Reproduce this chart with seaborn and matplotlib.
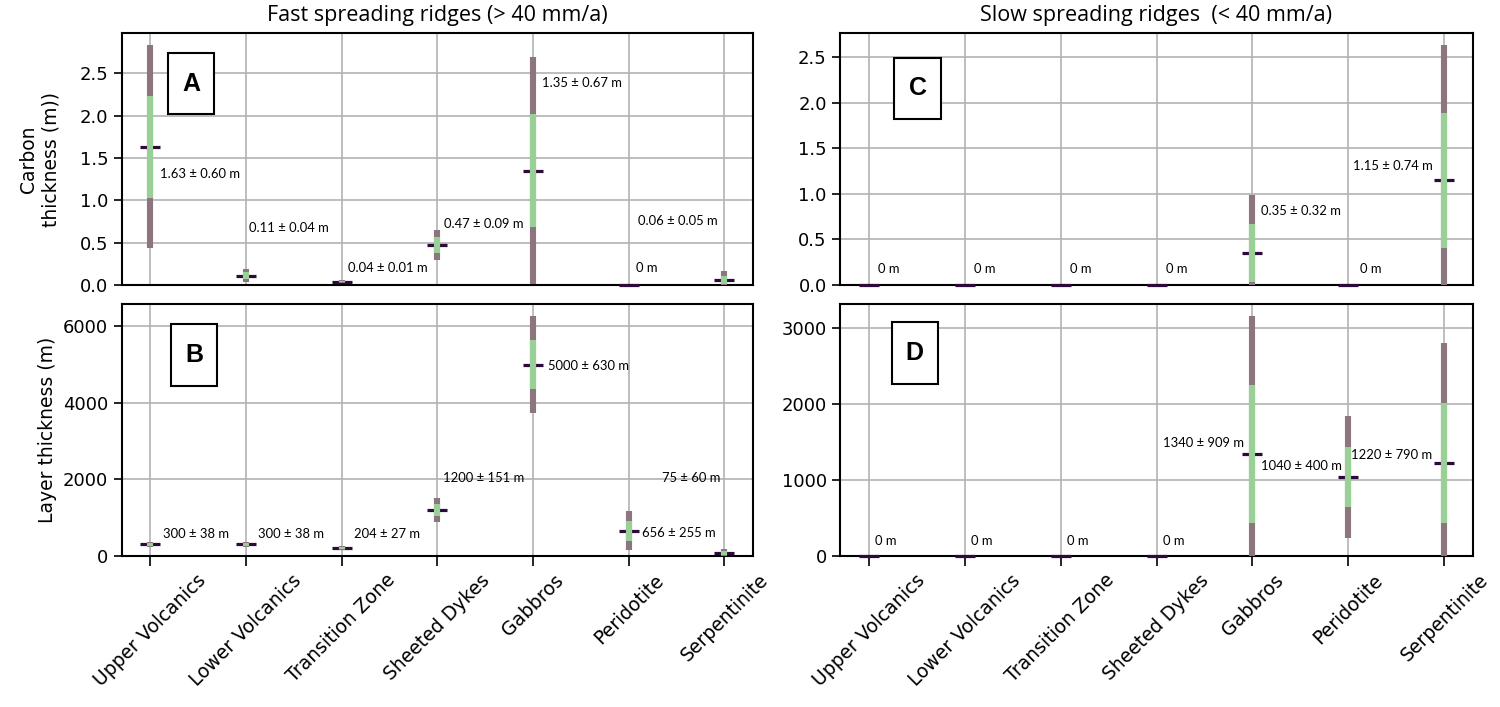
import numpy as np
import matplotlib
matplotlib.use("Agg")
import matplotlib.pyplot as plt
from matplotlib.patches import Rectangle
import seaborn as sns

# layer names along the x axis
categories = ["Upper Volcanics", "Lower Volcanics", "Transition Zone", "Sheeted Dykes",
              "Gabbros", "Peridotite", "Serpentinite"]

# fast spreading ridges: carbon thickness (m), mean and std
fast_carbon_mean = [1.63, 0.11, 0.04, 0.47, 1.35, 0.0, 0.06]
fast_carbon_sd = [0.60, 0.04, 0.01, 0.09, 0.67, 0.0, 0.05]
# fast spreading ridges: layer thickness (m)
fast_layer_mean = [300, 300, 204, 1200, 5000, 656, 75]
fast_layer_sd = [38, 38, 27, 151, 630, 255, 60]

# slow spreading ridges
slow_carbon_mean = [0.0, 0.0, 0.0, 0.0, 0.35, 0.0, 1.15]
slow_carbon_sd = [0.0, 0.0, 0.0, 0.0, 0.32, 0.0, 0.74]
slow_layer_mean = [0, 0, 0, 0, 1340, 1040, 1220]
slow_layer_sd = [0, 0, 0, 0, 909, 400, 790]

# where the value labels sit (x in category units, y in data units)
label_pos_a = [(0.10, 1.31), (1.03, 0.675), (2.07, 0.20), (3.07, 0.72),
               (4.09, 2.38), (5.08, 0.20), (5.10, 0.75)]
label_pos_b = [(0.13, 569), (1.13, 569), (2.13, 569), (3.06, 2035),
               (4.16, 4952), (5.14, 611), (5.35, 2035)]
label_pos_c = [(0.10, 0.18), (1.10, 0.18), (2.10, 0.18), (3.10, 0.18),
               (4.09, 0.81), (5.12, 0.18), (5.05, 1.31)]
label_pos_d = [(0.07, 191), (1.07, 191), (2.07, 191), (3.07, 191),
               (3.07, 1493), (4.09, 1187), (5.03, 1324)]

OUTER = "#8c757f"
INNER = "#98d095"
MEAN = "#2c0b3a"

sns.set_theme(style="ticks")
plt.rcParams["font.family"] = ["DejaVu Sans"]
for key in ("text.color", "axes.labelcolor", "xtick.color", "ytick.color"):
    plt.rcParams[key] = "black"


def draw_panel(ax, means, sds, label_pos, decimals, letter, box):
    means = np.array(means, dtype=float)
    sds = np.array(sds, dtype=float)
    x = np.arange(len(categories))
    ax.vlines(x, means - 2 * sds, means + 2 * sds, color=OUTER, lw=4.4, zorder=3)
    ax.vlines(x, means - sds, means + sds, color=INNER, lw=4.4, zorder=3.1)
    sns.scatterplot(x=x, y=means, marker="_", s=190, color=MEAN, linewidth=2.3,
                    zorder=2.9, ax=ax, legend=False, clip_on=False)
    for i, (lx, ly) in enumerate(label_pos):
        if means[i] == 0:
            txt = "0 m"
        elif decimals:
            txt = f"{means[i]:.2f} \u00b1 {sds[i]:.2f} m"
        else:
            txt = f"{means[i]:.0f} \u00b1 {sds[i]:.0f} m"
        ax.text(lx, ly, txt, fontsize=9.4, family=["Lato", "DejaVu Sans"],
                ha="left", va="center", zorder=4)
    ax.set_xlim(-0.3, len(categories) - 0.7)
    ax.set_ylim(0, np.max(means + 2 * sds) * 1.05)
    ax.set_xticks(x)
    ax.grid(True, color="#b3b3b3", lw=1.2)
    ax.set_axisbelow(True)
    for sp in ax.spines.values():
        sp.set_color("black")
        sp.set_linewidth(1.5)
    ax.tick_params(axis="both", labelsize=13, length=6, width=1.2, color="black")
    # panel letter in a box
    bx, by, bw, bh = box
    ax.add_patch(Rectangle((bx, by), bw, bh, transform=ax.transAxes, fc="white",
                           ec="black", lw=1.5, zorder=5))
    ax.text(bx + bw / 2, by + bh / 2, letter, transform=ax.transAxes, ha="center",
            va="center", fontsize=18, fontweight="bold",
            family=["Liberation Sans", "DejaVu Sans"], zorder=6)


fig = plt.figure(figsize=(15, 7.07), dpi=100)
axA = fig.add_axes([0.081, 0.597, 0.421, 0.356])
axB = fig.add_axes([0.081, 0.2136, 0.421, 0.356])
axC = fig.add_axes([0.56, 0.597, 0.422, 0.356])
axD = fig.add_axes([0.56, 0.2136, 0.422, 0.356])

draw_panel(axA, fast_carbon_mean, fast_carbon_sd, label_pos_a, True, "A",
           (0.074, 0.679, 0.073, 0.242))
draw_panel(axB, fast_layer_mean, fast_layer_sd, label_pos_b, False, "B",
           (0.078, 0.677, 0.074, 0.246))
draw_panel(axC, slow_carbon_mean, slow_carbon_sd, label_pos_c, True, "C",
           (0.086, 0.659, 0.073, 0.244))
draw_panel(axD, slow_layer_mean, slow_layer_sd, label_pos_d, False, "D",
           (0.0815, 0.684, 0.0735, 0.244))

for ax in (axA, axC):
    ax.set_yticks(np.arange(0, 3.0, 0.5))
    ax.set_yticklabels([f"{v:.1f}" for v in np.arange(0, 3.0, 0.5)])
    ax.tick_params(axis="x", labelbottom=False, length=0)
axB.set_yticks([0, 2000, 4000, 6000])
axD.set_yticks([0, 1000, 2000, 3000])
for ax in (axB, axD):
    ax.set_xticklabels(categories, rotation=45, ha="center", fontsize=13.5)
    ax.tick_params(axis="x", length=7)

axA.set_ylabel("Carbon\nthickness (m))", fontsize=13.5, labelpad=14)
axB.set_ylabel("Layer thickness (m)", fontsize=13.5)

fig.text(0.2915, 0.978, "Fast spreading ridges (> 40 mm/a)", ha="center", va="center",
         fontsize=15.5, family=["Open Sans", "DejaVu Sans"])
fig.text(0.771, 0.978, "Slow spreading ridges  (< 40 mm/a)", ha="center", va="center",
         fontsize=15.5, family=["Open Sans", "DejaVu Sans"])

fig.savefig("out.png", dpi=100)
